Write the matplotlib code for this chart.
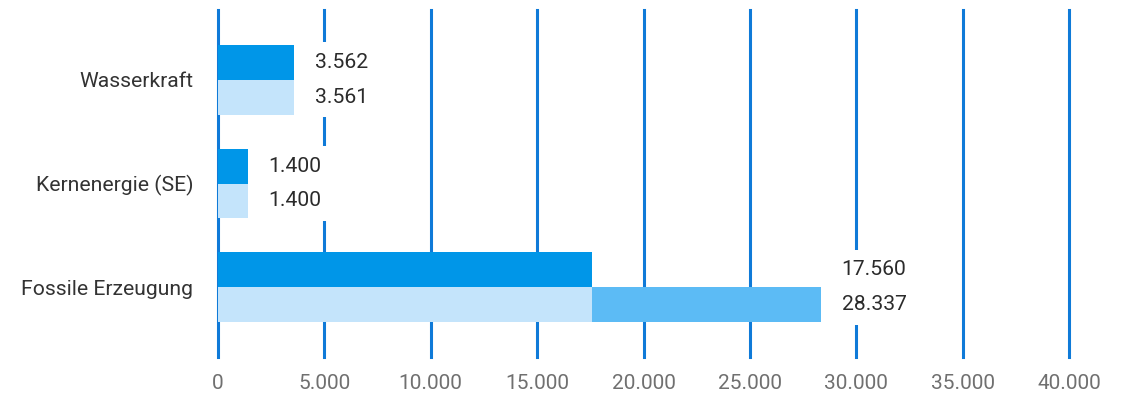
import matplotlib
matplotlib.use("Agg")
import matplotlib.pyplot as plt
from matplotlib.ticker import FuncFormatter, MultipleLocator
import numpy as np

categories = ["Wasserkraft", "Kernenergie (SE)", "Fossile Erzeugung"]
series_a = [3562, 1400, 17560]
series_b = [3561, 1400, 28337]
labels_a = ["3.562", "1.400", "17.560"]
labels_b = ["3.561", "1.400", "28.337"]

plt.rcParams['font.family'] = ['Roboto', 'DejaVu Sans']

fig = plt.figure(figsize=(11.25, 3.96), dpi=100)
ax = fig.add_axes([218/1125, 39/396, 851/1125, 347/396])

c_dark = "#0096E8"
c_light = "#C4E4FB"
c_mid = "#5CBBF5"
c_grid = "#0F7AD8"

y = np.arange(len(categories))
h = 0.337
a = np.array(series_a, dtype=float)
b = np.array(series_b, dtype=float)
base_b = np.minimum(a, b)
extra_b = b - base_b

ax.barh(y - h/2, a, height=h, color=c_dark, zorder=3)
ax.barh(y + h/2, base_b, height=h, color=c_light, zorder=3)
ax.barh(y + h/2, extra_b, left=base_b, height=h, color=c_mid, zorder=3)

ax.set_xlim(0, 40000)
ax.set_ylim(len(categories) - 1 + 0.673, -0.673)
ax.xaxis.set_major_locator(MultipleLocator(5000))
ax.xaxis.set_major_formatter(FuncFormatter(lambda v, p: f"{int(v):,}".replace(",", ".")))
ax.grid(axis='x', color=c_grid, linewidth=2.2, zorder=1)
ax.grid(axis='y', visible=False)
for gl in ax.get_xgridlines():
    gl.set_clip_on(False)
for s in ax.spines.values():
    s.set_visible(False)
ax.set_yticks(y)
ax.set_yticklabels(categories)
ax.tick_params(axis='y', length=0, pad=18, labelsize=15.2, labelcolor="#333333")
ax.tick_params(axis='x', length=0, pad=12, labelsize=15, labelcolor="#707070")

for i in range(len(categories)):
    xm = max(a[i], b[i])
    for yy, lab in ((y[i] - h/2, labels_a[i]), (y[i] + h/2, labels_b[i])):
        ax.annotate(lab, xy=(xm, yy), xytext=(15, 0), textcoords='offset points',
                    ha='left', va='center', fontsize=15.2, color="#2b2b2b", zorder=5,
                    bbox=dict(boxstyle='square,pad=0.5', fc='white', ec='none'))

fig.savefig("out.png", dpi=100, facecolor='white')
